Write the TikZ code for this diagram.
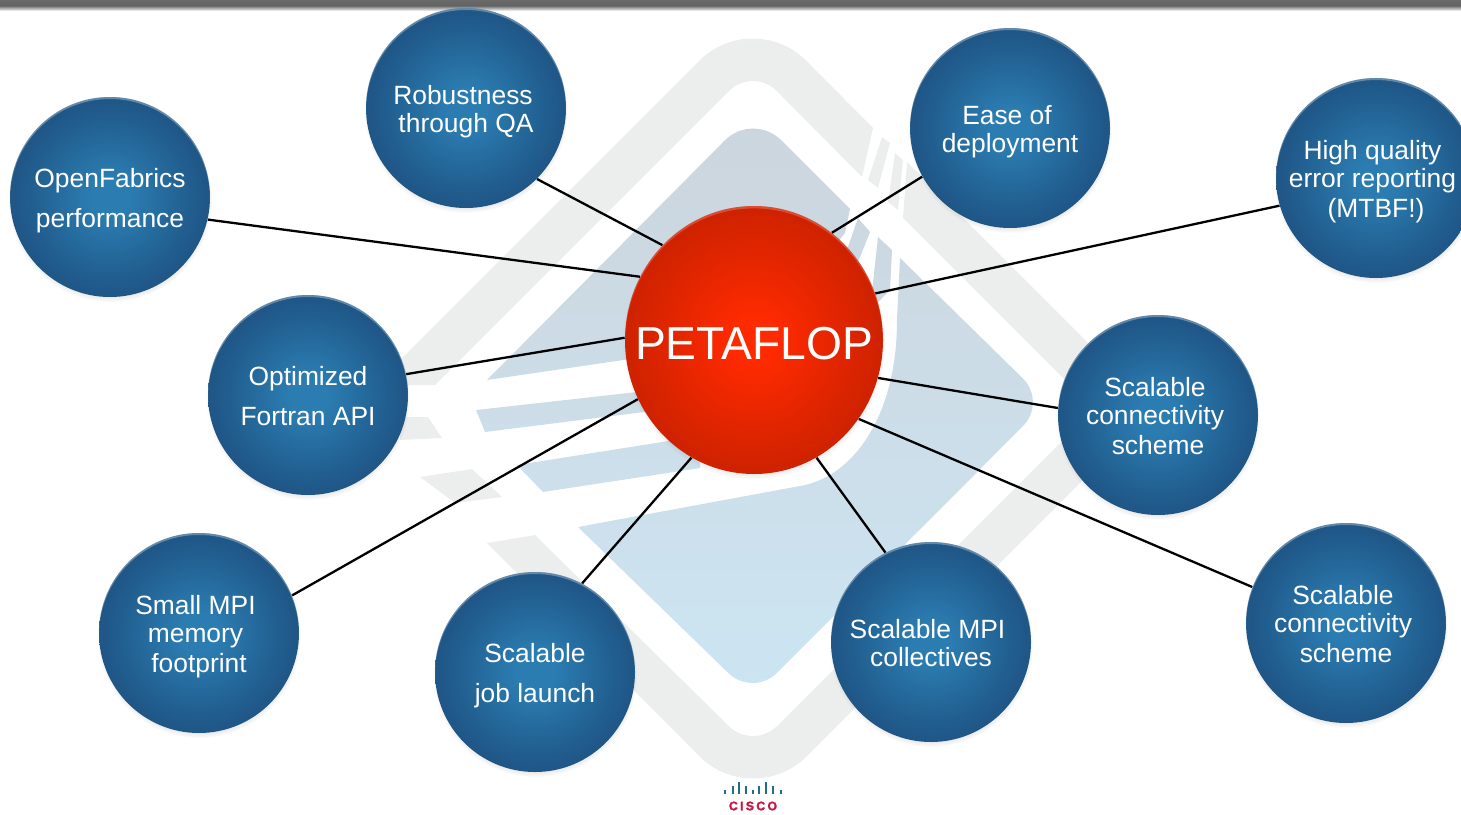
\documentclass[tikz,border=0pt]{standalone}
\usepackage{fontspec}
\usepackage{xcolor}
\setmainfont{Liberation Sans}
\newfontfamily\ciscofont[LetterSpace=18,FakeBold=1.5]{Liberation Sans}
\usetikzlibrary{shapes.geometric,shadows}
\definecolor{markgrey}{HTML}{ECEEED}
\definecolor{marktop}{HTML}{CCD5DD}
\definecolor{markbottom}{HTML}{CCE5F3}
\definecolor{ciscoteal}{HTML}{1F6F8B}
\definecolor{ciscored}{HTML}{C5173F}
\definecolor{ballA}{HTML}{2B7CB1}
\definecolor{ballB}{HTML}{215E8F}
\definecolor{ballC}{HTML}{1B4775}
\definecolor{redA}{HTML}{FF2A00}
\definecolor{redB}{HTML}{D92400}
\definecolor{redC}{HTML}{BC1E00}
\pgfdeclareradialshading{blueball}{\pgfpointorigin}{color(0bp)=(ballA); color(5bp)=(ballA); color(20bp)=(ballB); color(34bp)=(ballC); color(50bp)=(ballC)}
\pgfdeclareradialshading{redball}{\pgfpointorigin}{color(0bp)=(redA); color(4bp)=(redA); color(20bp)=(redB); color(34bp)=(redC); color(50bp)=(redC)}
\newcommand{\dropfour}{\rule{0pt}{13.4pt}}
\newcommand{\dropone}{\rule{0pt}{10.4pt}}
\tikzset{
  goal/.style={circle, minimum size=100pt, inner sep=0pt, align=center, text=white,
    font=\fontsize{13.2}{14}\selectfont, shading=blueball,
    circular drop shadow={shadow xshift=0pt, shadow yshift=-1.5pt, shadow scale=1.02, opacity=.45},
    path picture={\fill[white,opacity=.3,even odd rule] (path picture bounding box.center) circle (51pt)
      ([yshift=-1pt]path picture bounding box.center) circle (50pt);}},
  petaflop/.style={ellipse, minimum width=129pt, minimum height=134pt, inner sep=0pt, text=white,
    font=\fontsize{23.1}{24}\selectfont, shading=redball,
    circular drop shadow={shadow xshift=0pt, shadow yshift=-1.5pt, shadow scale=1.02, opacity=.45},
    path picture={\fill[white,opacity=.2,even odd rule] (path picture bounding box.center) circle [x radius=66pt, y radius=68pt]
      ([yshift=-1.2pt]path picture bounding box.center) circle [x radius=64.5pt, y radius=67pt];}},
  link/.style={black, line width=1.15pt},
  markband/.style={fill=markgrey},
  markbody/.style={top color=marktop, bottom color=markbottom}
}
\begin{document}
\begin{tikzpicture}[x=0.5pt,y=-0.5pt]
\useasboundingbox (0,0) rectangle (1461,814);
\shade[top color=black!58, bottom color=white, middle color=black!62] (0,0) rectangle (1461,11);

% logo behind the bubbles
\fill[markband] (400,385) -- (435,385) [rounded corners=17pt] -- (753,67) [sharp corners] -- (862,177) -- (873,128)
  [rounded corners=38pt] -- (753,7) [sharp corners] -- (400,360) -- cycle;
\fill[markband] (882,137) -- (890,143) -- (878,188) -- (868,180) -- cycle;
\fill[markband] (895,153) -- (903,160) -- (898,210) -- (888,202) -- cycle;
\fill[markband] (903,218) [rounded corners=17pt] -- (1094,409) -- (753,750) [sharp corners] -- (535,535) -- (487,543)
  [rounded corners=38pt] -- (753,810) -- (1154,409) [sharp corners] -- (907,162) -- cycle;
\fill[markband] (400,417) -- (428,417) -- (442,438) -- (400,440) -- cycle;
\fill[markband] (420,477) -- (472,469) -- (502,497) -- (455,503) -- cycle;
\shade[markbody] (487,380) [rounded corners=20pt] -- (753,112) [sharp corners] -- (850,209) -- (845,233) -- (760,340) -- cycle
  (476,410) -- (700,385) -- (700,405) -- (485,432) -- cycle
  (517,465) -- (700,436) -- (700,468) -- (543,492) -- cycle
  (858,218) -- (870,232) -- (858,262) -- (840,270) -- cycle
  (878,237) -- (892,250) -- (890,290) -- (870,310) -- cycle
  (578,527) -- (800,486) .. controls (850,478) and (897,420) .. (897,320) -- (900,258)
  [rounded corners=17pt] -- (1047,402) -- (753,697) [sharp corners] -- cycle;

\node[petaflop] (peta) at (754,340) {\makebox[0pt]{\raisebox{-9.8pt}[0pt][0pt]{PETAFLOP}}};
\node[goal] (openfabrics) at (110,197) {\dropfour OpenFabrics\\[6pt]performance};
\node[goal] (robust) at (466,108) {\dropfour Robustness\kern3pt\\through QA};
\node[goal] (ease) at (1010,128) {\dropfour Ease of\kern3pt\\deployment};
\node[goal] (quality) at (1376,178) {\dropfour High quality\kern3.5pt\\error reporting\kern3.5pt\\[1pt](MTBF!)};
\node[goal] (fortran) at (308,395) {\dropone Optimized\\[6pt]Fortran API};
\node[goal] (connect) at (1158,415) {\dropone Scalable\kern3pt\\connectivity\kern3pt\\[1pt]scheme};
\node[goal] (connecttwo) at (1346,623) {\dropone Scalable\kern3pt\\connectivity\kern3pt\\[1pt]scheme};
\node[goal] (memory) at (199,633) {\dropfour Small MPI\kern3.5pt\\memory\kern3.5pt\\[1pt]footprint};
\node[goal] (launch) at (535,672) {\dropfour Scalable\\[6pt]job launch};
\node[goal] (collect) at (931,642) {\dropone Scalable MPI\kern3.5pt\\collectives};

\draw[link] (openfabrics.347) -- (peta.151);
\draw[link] (robust.315) -- (peta.134);
\draw[link] (ease.209) -- (peta.54);
\draw[link] (quality.196) -- (peta.21);
\draw[link] (fortran.12) -- (peta.179);
\draw[link] (connect.176) -- (peta.343);
\draw[link] (connecttwo.159) -- (peta.323);
\draw[link] (collect.117) -- (peta.298);
\draw[link] (launch.62) -- (peta.242);
\draw[link] (memory.22) -- (peta.207);

% small logo at the foot
\foreach \x/\h in {725/4,733/8,739/12,746/8,753/4,759/8,766/12,773/8,781/4}
  \fill[ciscoteal] (\x-1.2,794) rectangle (\x+1.2,794-\h);
\node[text=ciscored, inner sep=0pt, font=\ciscofont\bfseries\fontsize{6.2}{7}\selectfont] (cisco) at (753,806) {CISCO};
\end{tikzpicture}
\end{document}
